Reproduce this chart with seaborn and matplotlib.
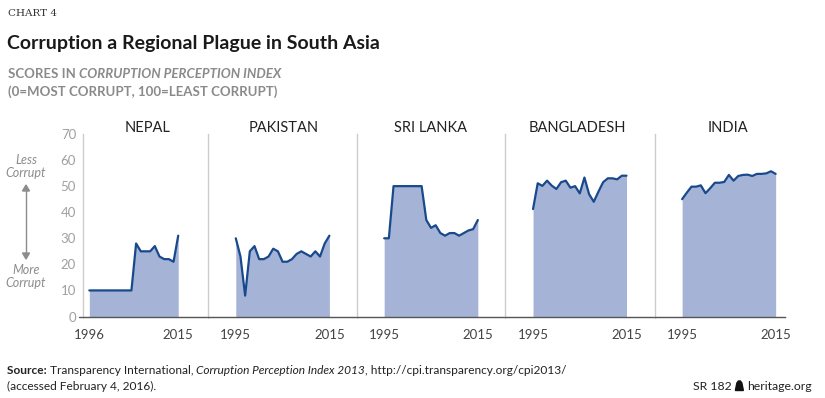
import pandas as pd
import matplotlib.pyplot as plt
import seaborn as sns
from matplotlib.patches import Polygon

# CPI scores
countries = ["NEPAL", "PAKISTAN", "SRI LANKA", "BANGLADESH", "INDIA"]
nepal_years = list(range(1996, 2016))
years = list(range(1995, 2016))

nepal = [10, 10, 10, 10, 10, 10, 10, 10, 10, 10,
         28, 25, 25, 25, 27, 23, 22, 22, 21, 31]
pakistan = [30, 23, 8, 25, 27, 22, 22, 23, 26, 25, 21,
            21, 22, 24, 25, 24, 23, 25, 23, 28, 31]
sri_lanka = [30, 30, 50, 50, 50, 50, 50, 50, 50, 37, 34,
             35, 32, 31, 32, 32, 31, 32, 33, 33.5, 37]
bangladesh = [41.2, 51.1, 50.1, 52.1, 50.2, 48.9, 51.5, 52.1, 49.4, 50, 47.2,
              53.3, 46.9, 44, 47.9, 51.5, 53, 53, 52.6, 54, 54]
india = [45, 47.5, 49.8, 49.8, 50.3, 47.3, 49.2, 51.3, 51.3, 51.6, 54.3,
         52.1, 53.9, 54.3, 54.4, 53.9, 54.7, 54.7, 54.9, 55.7, 54.7]

series = {
    "NEPAL": (nepal_years, nepal),
    "PAKISTAN": (years, pakistan),
    "SRI LANKA": (years, sri_lanka),
    "BANGLADESH": (years, bangladesh),
    "INDIA": (years, india),
}

rows = []
for name in countries:
    yrs, vals = series[name]
    for y, v in zip(yrs, vals):
        rows.append({"country": name, "year": y, "score": v})
df = pd.DataFrame(rows)

sns.set_style("white")
plt.rcParams['font.family'] = ['Lato', 'DejaVu Sans']

W, H = 825, 398
fig = plt.figure(figsize=(W / 100, H / 100), dpi=100)

fill_col = "#a5b4d6"
line_col = "#18498c"
base_y, top_y = 316.5, 134

# pixel extents of each panel and its x range
panels = [(83, 207.7, 1994.65, 2021.3),
          (207.7, 357, 1989.0, 2020.9),
          (357, 505, 1989.2, 2020.8),
          (505, 655, 1989.0, 2021.1),
          (655, 785, 1989.2, 2017.0)]
title_x = [148, 284, 430, 577, 728]

for i, name in enumerate(countries):
    x0, x1, lo, hi = panels[i]
    ax = fig.add_axes([x0 / W, 1 - base_y / H, (x1 - x0) / W, (base_y - top_y) / H])
    sub = df[df["country"] == name]
    ax.fill_between(sub["year"], sub["score"], color=fill_col, lw=0)
    sns.lineplot(data=sub, x="year", y="score", color=line_col, lw=1.6, ax=ax)
    ax.set_xlim(lo, hi)
    ax.set_ylim(0, 70)
    first, last = sub["year"].min(), sub["year"].max()
    ax.set_xticks([first, last])
    ax.set_xticklabels([str(first), str(last)], color="#444444", fontsize=9.5)
    ax.tick_params(axis="x", length=0, pad=9)
    ax.set_yticks(range(0, 80, 10))
    if i == 0:
        ax.tick_params(axis="y", length=0, pad=5, labelsize=9.5, labelcolor="#a0a0a0")
        ax.plot([lo - 0.8, lo], [0, 0], color="#555555", lw=1, clip_on=False)
    else:
        ax.tick_params(axis="y", length=0, labelleft=False)
    ax.set_xlabel("")
    ax.set_ylabel("")
    for s in ["top", "right"]:
        ax.spines[s].set_visible(False)
    ax.spines["left"].set_color("#cccccc")
    ax.spines["left"].set_linewidth(1)
    ax.spines["bottom"].set_color("#555555")
    ax.spines["bottom"].set_linewidth(1)
    fig.text(title_x[i] / W, 1 - 128 / H, name, ha="center", va="center",
             fontsize=10.5, color="#222222")

# less / more corrupt guide
guide = "#8c8c8c"
fig.text(26 / W, 1 - 166.5 / H, "Less\nCorrupt", ha="center", va="center",
         style="italic", color=guide, fontsize=9, linespacing=1.15)
fig.text(26 / W, 1 - 276.5 / H, "More\nCorrupt", ha="center", va="center",
         style="italic", color=guide, fontsize=9, linespacing=1.15)
fig.add_artist(plt.Line2D([26 / W, 26 / W], [1 - 190 / H, 1 - 254 / H], color=guide, lw=1))
fig.patches.append(Polygon([[22.5 / W, 1 - 191 / H], [29.5 / W, 1 - 191 / H], [26 / W, 1 - 185 / H]],
                           closed=True, color=guide, transform=fig.transFigure))
fig.patches.append(Polygon([[22.5 / W, 1 - 253 / H], [29.5 / W, 1 - 253 / H], [26 / W, 1 - 259 / H]],
                           closed=True, color=guide, transform=fig.transFigure))

# header
fig.text(8 / W, 1 - 14 / H, "CHART 4", family="DejaVu Serif", fontsize=7.5,
         color="#333333", va="center")
fig.text(7 / W, 1 - 43 / H, "Corruption a Regional Plague in South Asia",
         fontsize=14, fontweight="bold", color="#1a1a1a", va="center")
renderer = fig.canvas.get_renderer()
t1 = fig.text(8 / W, 1 - 74 / H, "SCORES IN ", fontsize=9.5, fontweight="bold",
              color="#8a8a8a", va="center")
bb = t1.get_window_extent(renderer)
fig.text(bb.x1 / W, 1 - 74 / H, "CORRUPTION PERCEPTION INDEX", fontsize=9.5,
         fontweight="bold", style="italic", color="#8a8a8a", va="center")
fig.text(8 / W, 1 - 92 / H, "(0=MOST CORRUPT, 100=LEAST CORRUPT)", fontsize=9.5,
         fontweight="bold", color="#8a8a8a", va="center")

# footer
def chain(x, y, parts):
    for txt, kw in parts:
        t = fig.text(x / W, 1 - y / H, txt, fontsize=8.6, color="#222222", va="center", **kw)
        x = t.get_window_extent(renderer).x1
    return x

chain(7, 371, [("Source: ", {"fontweight": "bold"}),
               ("Transparency International, ", {}),
               ("Corruption Perception Index 2013", {"style": "italic"}),
               (", http://cpi.transparency.org/cpi2013/", {})])
chain(7, 386, [("(accessed February 4, 2016).", {})])

t = fig.text(812 / W, 1 - 386 / H, "heritage.org", fontsize=8.8, color="#222222",
             ha="right", va="center")
hx = t.get_window_extent(renderer).x0
bx = hx - 12
fig.patches.append(Polygon([[bx / W, 1 - 390.5 / H], [(bx + 8) / W, 1 - 390.5 / H],
                            [(bx + 6.5) / W, 1 - 383 / H], [(bx + 5) / W, 1 - 381 / H],
                            [(bx + 3) / W, 1 - 381 / H], [(bx + 1.5) / W, 1 - 383 / H]],
                           closed=True, color="#111111", transform=fig.transFigure))
fig.text((bx - 4) / W, 1 - 386 / H, "SR 182", fontsize=8.8, color="#222222",
         ha="right", va="center")

fig.savefig("out.png", dpi=100)
